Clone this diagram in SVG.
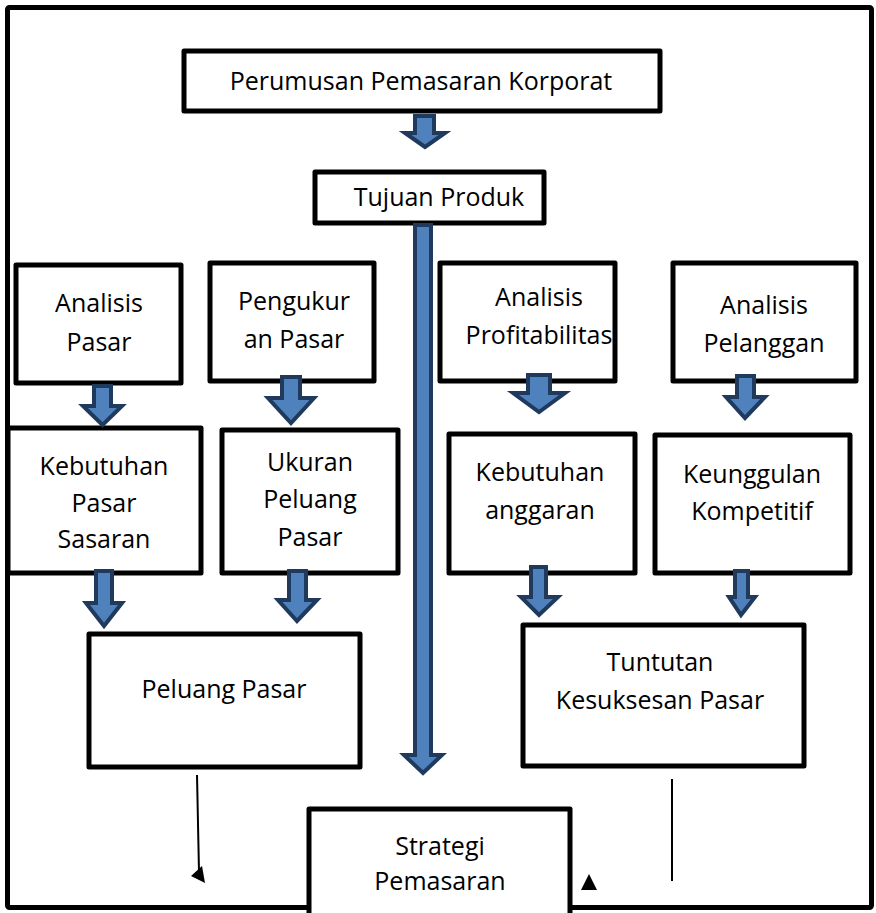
<svg xmlns="http://www.w3.org/2000/svg" width="876" height="913" viewBox="0 0 876 913">
<style>
.box{fill:#fff;stroke:#000;stroke-width:5;stroke-linejoin:round}
.t{font-family:"Open Sans","Liberation Sans",sans-serif;font-size:25px;fill:#000;text-anchor:middle}
.ba{fill:#4f81bd;stroke:#203a5e;stroke-width:4;stroke-linejoin:miter}
.thin{stroke:#000;stroke-width:2;fill:none}
</style>
<rect x="7.5" y="7.5" width="864" height="900" fill="#fff" stroke="#000" stroke-width="5" rx="2"/>
<g id="n-perumusan"><rect class="box" x="184" y="51" width="476" height="60"/><text class="t" x="421" y="90">Perumusan Pemasaran Korporat</text></g>
<g id="n-tujuan"><rect class="box" x="315" y="172" width="229" height="51"/><text class="t" x="439" y="206">Tujuan Produk</text></g>
<g id="n-analisis-pasar"><rect class="box" x="16" y="265" width="165" height="118"/><text class="t" x="99" y="312">Analisis</text><text class="t" x="99" y="351">Pasar</text></g>
<g id="n-pengukuran"><rect class="box" x="210" y="263" width="164" height="118"/><text class="t" x="294" y="310">Pengukur</text><text class="t" x="294" y="348">an Pasar</text></g>
<g id="n-profitabilitas"><rect class="box" x="440" y="263" width="175" height="118"/><text class="t" x="539" y="306">Analisis</text><text class="t" x="539" y="344">Profitabilitas</text></g>
<g id="n-pelanggan"><rect class="box" x="673" y="263" width="183" height="118"/><text class="t" x="764" y="314">Analisis</text><text class="t" x="764" y="352">Pelanggan</text></g>
<g id="n-kebutuhan-pasar"><rect class="box" x="8" y="428" width="193" height="145"/><text class="t" x="104" y="475">Kebutuhan</text><text class="t" x="104" y="512">Pasar</text><text class="t" x="104" y="548">Sasaran</text></g>
<g id="n-ukuran"><rect class="box" x="222" y="430" width="176" height="143"/><text class="t" x="310" y="471">Ukuran</text><text class="t" x="310" y="508">Peluang</text><text class="t" x="310" y="546">Pasar</text></g>
<g id="n-anggaran"><rect class="box" x="449" y="434" width="186" height="139"/><text class="t" x="540" y="481">Kebutuhan</text><text class="t" x="540" y="519">anggaran</text></g>
<g id="n-keunggulan"><rect class="box" x="655" y="435" width="195" height="138"/><text class="t" x="752" y="483">Keunggulan</text><text class="t" x="752" y="520">Kompetitif</text></g>
<g id="n-peluang"><rect class="box" x="89" y="634" width="271" height="133"/><text class="t" x="224" y="698">Peluang Pasar</text></g>
<g id="n-tuntutan"><rect class="box" x="523" y="625" width="281" height="141"/><text class="t" x="660" y="671">Tuntutan</text><text class="t" x="660" y="709">Kesuksesan Pasar</text></g>
<g id="n-strategi"><rect class="box" x="309" y="809" width="261" height="115"/><text class="t" x="440" y="855">Strategi</text><text class="t" x="440" y="890">Pemasaran</text></g>
<g id="connectors">
<path class="ba" d="M415,116 H434 V133 H445 L425,147 L405,133 H415 Z"/>
<path class="ba" d="M415,225 H431 V755 H442 L423,773 L404,755 H415 Z"/>
<path class="ba" d="M94,386 H111 V406 H122 L102.5,425 L83,406 H94 Z"/>
<path class="ba" d="M282,377 H300 V398 H314 L291,423 L268,398 H282 Z"/>
<path class="ba" d="M528,375 H550 V393 H565 L539,412 L513,393 H528 Z"/>
<path class="ba" d="M737,376 H754 V397 H765 L745,418 L726,397 H737 Z"/>
<path class="ba" d="M96,571 H112 V603 H122 L104,626 L86,603 H96 Z"/>
<path class="ba" d="M289,571 H306 V600 H317 L297,621 L278,600 H289 Z"/>
<path class="ba" d="M531,567 H546 V597 H558 L539,615 L521,597 H531 Z"/>
<path class="ba" d="M735,571 H748 V597 H755 L741,615 L729,597 H735 Z"/>
<line class="thin" x1="197" y1="775" x2="199" y2="872"/>
<polygon points="191,876 202,866 205,883" fill="#000"/>
<line class="thin" x1="672" y1="779" x2="672" y2="881"/>
<polygon points="581,890 597,890 589,874" fill="#000"/>
</g>
</svg>
